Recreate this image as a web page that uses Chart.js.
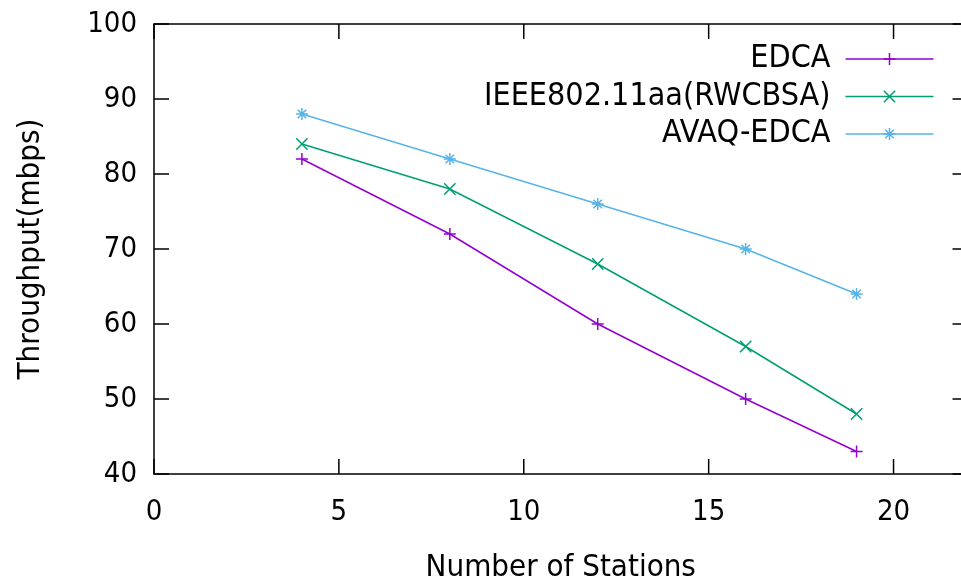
<!DOCTYPE html>
<html>
<head>
<meta charset="utf-8">
<script src="https://cdn.jsdelivr.net/npm/chart.js@4/dist/chart.umd.min.js"></script>
<style>
  html, body { margin: 0; padding: 0; background: #fff; overflow: hidden; }
  canvas { display: block; }
</style>
</head>
<body>
<canvas id="myChart" width="977" height="586"></canvas>
<script>
// data
const stations = [4, 8, 12, 16, 19];
const edca = [82, 72, 60, 50, 43];
const rwcbsa = [84, 78, 68, 57, 48];
const avaqEdca = [88, 82, 76, 70, 64];

const seriesNames = ["EDCA", "IEEE802.11aa(RWCBSA)", "AVAQ-EDCA"];
const xTicks = [0, 5, 10, 15, 20];
const yTicks = [40, 50, 60, 70, 80, 90, 100];

const FONT = "'DejaVu Sans Condensed', 'DejaVu Sans', sans-serif";

const toPoints = (ys) => stations.map((x, i) => ({ x: x, y: ys[i] }));

// gnuplot style frame with ticks pointing inwards, plus the legend
const framePlugin = {
  id: "frame",
  afterDraw(chart) {
    const ctx = chart.ctx;
    const area = chart.chartArea;
    const xs = chart.scales.x;
    const ys = chart.scales.y;
    const tick = 15;

    ctx.save();
    ctx.strokeStyle = "#000";
    ctx.lineWidth = 1.5;
    ctx.strokeRect(area.left, area.top, area.right - area.left, area.bottom - area.top);

    ctx.beginPath();
    xTicks.forEach((v) => {
      const px = xs.getPixelForValue(v);
      ctx.moveTo(px, area.bottom);
      ctx.lineTo(px, area.bottom - tick);
      ctx.moveTo(px, area.top);
      ctx.lineTo(px, area.top + tick);
    });
    yTicks.forEach((v) => {
      const py = ys.getPixelForValue(v);
      ctx.moveTo(area.left, py);
      ctx.lineTo(area.left + tick, py);
      ctx.moveTo(area.right, py);
      ctx.lineTo(area.right - tick, py);
    });
    ctx.stroke();

    // legend, text right aligned with the sample line on its right
    ctx.font = "32px " + FONT;
    ctx.textAlign = "right";
    ctx.textBaseline = "middle";
    chart.data.datasets.forEach((ds, i) => {
      const y = area.top + 35 + i * 37.5;
      const textRight = area.right - 137;
      ctx.fillStyle = "#000";
      ctx.fillText(ds.label, textRight, y);

      ctx.strokeStyle = ds.borderColor;
      ctx.lineWidth = 1.5;
      ctx.beginPath();
      ctx.moveTo(textRight + 15, y);
      ctx.lineTo(textRight + 103, y);
      ctx.stroke();

      Chart.helpers.drawPoint(ctx, {
        pointStyle: ds.pointStyle,
        radius: ds.pointRadius,
        borderWidth: 1.5,
        rotation: 0
      }, textRight + 59, y);
    });
    ctx.restore();
  }
};

const ctx = document.getElementById("myChart").getContext("2d");

new Chart(ctx, {
  type: "line",
  data: {
    datasets: [
      {
        label: seriesNames[0],
        data: toPoints(edca),
        borderColor: "#9400d3",
        backgroundColor: "#9400d3",
        pointStyle: "cross",
        pointRadius: 6,
      },
      {
        label: seriesNames[1],
        data: toPoints(rwcbsa),
        borderColor: "#009e73",
        backgroundColor: "#009e73",
        pointStyle: "crossRot",
        pointRadius: 8,
      },
      {
        label: seriesNames[2],
        data: toPoints(avaqEdca),
        borderColor: "#56b4e9",
        backgroundColor: "#56b4e9",
        pointStyle: "star",
        pointRadius: 6,
      },
    ],
  },
  options: {
    responsive: false,
    animation: false,
    devicePixelRatio: 1,
    layout: { padding: { left: 0, right: 3, top: 24, bottom: 0 } },
    elements: {
      line: { borderWidth: 1.5, tension: 0, fill: false },
      point: { borderWidth: 1.5, hoverRadius: 6 },
    },
    plugins: {
      legend: { display: false },
      tooltip: { enabled: false },
    },
    scales: {
      x: {
        type: "linear",
        min: 0,
        max: 22,
        afterBuildTicks: (scale) => {
          scale.ticks = xTicks.map((v) => ({ value: v }));
        },
        afterFit: (scale) => {
          scale.height = 112;
          scale.paddingLeft = 0;
          scale.paddingRight = 0;
        },
        grid: { display: false, drawTicks: false },
        border: { display: false },
        ticks: {
          color: "#000",
          padding: 24,
          maxRotation: 0,
          font: { family: FONT, size: 29, lineHeight: 1 },
        },
        title: {
          display: true,
          text: "Number of Stations",
          color: "#000",
          padding: { top: 0, bottom: 3 },
          font: { family: FONT, size: 31, lineHeight: 1 },
        },
      },
      y: {
        min: 40,
        max: 100,
        afterBuildTicks: (scale) => {
          scale.ticks = yTicks.map((v) => ({ value: v }));
        },
        afterFit: (scale) => {
          scale.width = 154;
          scale.paddingTop = 0;
          scale.paddingBottom = 0;
        },
        grid: { display: false, drawTicks: false },
        border: { display: false },
        ticks: {
          color: "#000",
          padding: 17,
          font: { family: FONT, size: 29, lineHeight: 1 },
        },
        title: {
          display: true,
          text: "Throughput(mbps)",
          color: "#000",
          padding: { top: 15, bottom: 0 },
          font: { family: FONT, size: 31, lineHeight: 1 },
        },
      },
    },
  },
  plugins: [framePlugin],
});
</script>
</body>
</html>
